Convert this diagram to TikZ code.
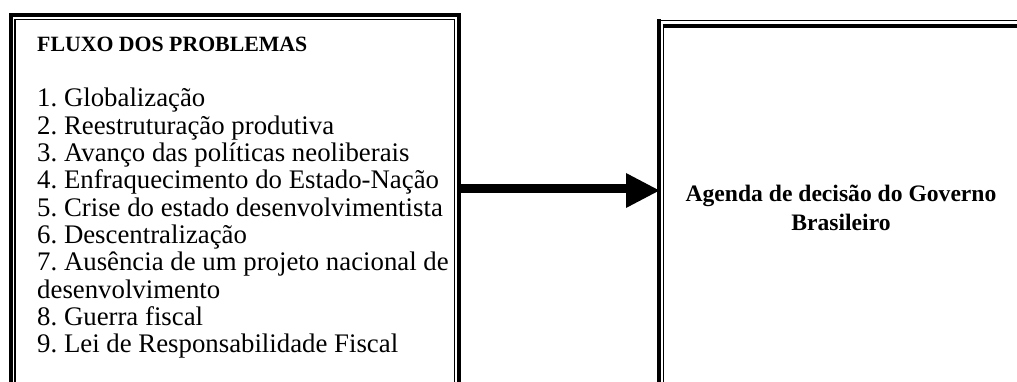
\documentclass[tikz,border=0pt]{standalone}
\usepackage{fontspec}
\setmainfont{Liberation Serif}
\frenchspacing
\begin{document}
\begin{tikzpicture}[x=1pt,y=-1pt,
  thickln/.style={line width=4pt},
  thinln/.style={line width=1.2pt},
  txt/.style={anchor=base west,inner sep=0pt,font=\fontsize{26.8}{27}\selectfont},
  ttl/.style={anchor=base,inner sep=0pt,font=\fontsize{23.6}{27}\selectfont\bfseries,align=center}]
\useasboundingbox (0,0) rectangle (1017,382);
\begin{scope}
\clip (0,0) rectangle (1017,382);
% left box
\draw[thickln] (10.5,390) -- (10.5,15) -- (458.5,15) -- (458.5,390);
\draw[thinln] (15,390) -- (15,19.5) -- (454.5,19.5) -- (454.5,390);
% right box
\draw[thickln] (659.3,390) -- (659.3,19);
\draw[thinln] (657.3,20.5) -- (1030,20.5);
\draw[thinln] (663.3,390) -- (663.3,24);
\draw[thickln] (662.7,26) -- (1030,26);
\end{scope}
\node[inner sep=0pt,minimum width=448pt,minimum height=380pt,anchor=north west] (lb) at (10.5,15) {};
\node[inner sep=0pt,minimum width=360pt,minimum height=370pt,anchor=north west] (rb) at (659.3,20.5) {};
% texts
\node[txt,font=\fontsize{21.8}{27}\selectfont\bfseries] (t0) at (37,52) {FLUXO DOS PROBLEMAS};
\node[txt] (t1) at (37,107) {1. Globalização};
\node[txt] (t2) at (37,134.3) {2. Reestruturação produtiva};
\node[txt] (t3) at (37,161.6) {3. Avanço das políticas neoliberais};
\node[txt] (t4) at (37,188.9) {4. Enfraquecimento do Estado-Nação};
\node[txt] (t5) at (37,216.2) {5. Crise do estado desenvolvimentista};
\node[txt] (t6) at (37,243.5) {6. Descentralização};
\node[txt] (t7) at (37,270.8) {7. Ausência de um projeto nacional de};
\node[txt] (t7b) at (37,298.1) {desenvolvimento};
\node[txt] (t8) at (37,325.4) {8. Guerra fiscal};
\node[txt] (t9) at (37,352.7) {9. Lei de Responsabilidade Fiscal};
\node[ttl] (r1) at (841,201) {Agenda de decisão do Governo};
\node[ttl] (r2) at (841,230) {Brasileiro};
% arrow
\coordinate (as) at (lb.east |- 0,190.5);
\coordinate (ae) at (rb.west |- 0,190.5);
\coordinate (hb) at (626,190.5);
\draw[line width=1pt] (as |- 0,184.8) -- (hb |- 0,184.8);
\fill ([yshift=-2.7pt]as) rectangle ([yshift=5.2pt]hb);
\fill (hb |- 0,173) -- (ae) -- (hb |- 0,208) -- cycle;
\end{tikzpicture}
\end{document}
